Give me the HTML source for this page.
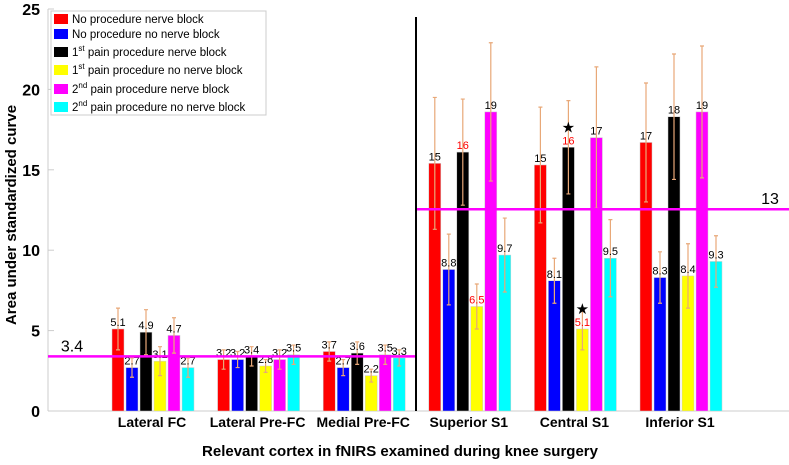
<!DOCTYPE html>
<html><head><meta charset="utf-8"><style>
body{margin:0;background:#fff;font-family:"Liberation Sans",Arial,sans-serif}
svg text{font-family:"Liberation Sans",Arial,sans-serif}
</style></head><body>
<svg id="chart" width="789" height="460" xmlns="http://www.w3.org/2000/svg"></svg>
<script>
const categories=["Lateral FC","Lateral Pre-FC","Medial Pre-FC","Superior S1","Central S1","Inferior S1"];
const seriesNames=["No procedure nerve block","No procedure no nerve block","1st pain procedure nerve block","1st pain procedure no nerve block","2nd pain procedure nerve block","2nd pain procedure no nerve block"];
const s1=[5.1,3.2,3.7,15.4,15.3,16.7];
const s2=[2.7,3.2,2.7,8.8,8.1,8.3];
const s3=[4.9,3.4,3.6,16.1,16.4,18.3];
const s4=[3.1,2.8,2.2,6.5,5.1,8.4];
const s5=[4.7,3.2,3.5,18.6,17.0,18.6];
const s6=[2.7,3.5,3.3,9.7,9.5,9.3];
const e1=[1.3,0.6,0.6,4.1,3.6,3.7];
const e2=[0.6,0.5,0.5,2.2,1.4,1.6];
const e3=[1.4,0.6,0.7,3.3,2.9,3.9];
const e4=[0.9,0.4,0.4,1.4,1.3,2.0];
const e5=[1.1,0.6,0.6,4.3,4.4,4.1];
const e6=[0.6,0.6,0.5,2.3,2.4,1.6];
const labels1=["5.1","3.2","3.7","15","15","17"];
const labels2=["2.7","3.2","2.7","8.8","8.1","8.3"];
const labels3=["4.9","3.4","3.6","16","16","18"];
const labels4=["3.1","2.8","2.2","6.5","5.1","8.4"];
const labels5=["4.7","3.2","3.5","19","17","19"];
const labels6=["2.7","3.5","3.3","9.7","9.5","9.3"];
const meanLeft=3.4, meanRight=12.55;
const yTicks=[0,5,10,15,20,25];

const colors=["#ff0000","#0000ff","#000000","#ffff00","#ff00ff","#00ffff"];
const series=[s1,s2,s3,s4,s5,s6], errs=[e1,e2,e3,e4,e5,e6], labs=[labels1,labels2,labels3,labels4,labels5,labels6];
const redLabel={"3-2":1,"3-3":1,"4-2":1,"4-3":1};
const stars={"4-2":1,"4-3":1};
const NS="http://www.w3.org/2000/svg", svg=document.getElementById('chart');
const y=v=>411-v*16.08;
const gx=i=>112+i*105.6;
const bx=(i,j)=>gx(i)+j*14;
function mk(t,a,txt){const e=document.createElementNS(NS,t);for(const k in a)e.setAttribute(k,a[k]);if(txt!==undefined)e.textContent=txt;svg.appendChild(e);return e;}
let ax=mk('line',{x1:48,y1:y(0),x2:789,y2:y(0),stroke:'#ccc','stroke-width':1});

let ay=mk('line',{x1:48,y1:y(25),x2:48,y2:y(0),stroke:'#ccc','stroke-width':1});

yTicks.forEach(t=>{
 let l=mk('line',{x1:48,y1:y(t),x2:54,y2:y(t),stroke:'#ccc'});
 
 let tx=mk('text',{x:40,y:y(t)+6,'text-anchor':'end','font-size':16,'font-weight':'bold'},t);
 
});
categories.forEach((c,i)=>{
 let t=mk('text',{x:gx(i)+40,y:427,'text-anchor':'middle','font-size':14,'font-weight':'bold'},c);
 
 series.forEach((s,j)=>{
  const x=bx(i,j),v=s[i];
  let r=mk('rect',{x:x,y:y(v),width:12,height:y(0)-y(v),fill:colors[j],stroke:'#ccc','stroke-width':0.5});
  
  const e=errs[j][i],cx=x+6;
  let eb=mk('path',{d:`M${cx},${y(v-e)}V${y(v+e)}M${cx-2},${y(v-e)}H${cx+2}M${cx-2},${y(v+e)}H${cx+2}`,stroke:'#e8a878','stroke-width':1.2,fill:'none'});
  
  const key=i+'-'+j;
  let lt=mk('text',{x:cx,y:y(v)-3,'text-anchor':'middle','font-size':11,fill:redLabel[key]?'#ff0000':'#000'},labs[j][i]);
  
  if(stars[key]){let st=mk('text',{x:cx,y:y(v)-15,'text-anchor':'middle','font-size':15},'★');
   }
 });
});
let ml=mk('line',{x1:48,y1:y(meanLeft),x2:416,y2:y(meanLeft),stroke:'#ff00ff','stroke-width':2.5});

let mlt=mk('text',{x:72,y:y(meanLeft)-5,'text-anchor':'middle','font-size':16},'3.4');

let mr=mk('line',{x1:416,y1:y(meanRight),x2:789,y2:y(meanRight),stroke:'#ff00ff','stroke-width':2.5});

let mrt=mk('text',{x:770,y:y(meanRight)-5,'text-anchor':'middle','font-size':16},'13');

let dv=mk('line',{x1:416,y1:y(24.5),x2:416,y2:y(0),stroke:'#000','stroke-width':2});

let xt=mk('text',{x:400,y:456,'text-anchor':'middle','font-size':15,'font-weight':'bold'},'Relevant  cortex in fNIRS examined during knee surgery');

let yt=mk('text',{x:0,y:0,'text-anchor':'middle','font-size':15,'font-weight':'bold',transform:'translate(16,215) rotate(-90)'},'Area under standardized curve');

let lg=mk('rect',{x:51,y:11,width:215,height:104,fill:'#fff',stroke:'#ccc'});

const rowsY=[19,34,52,70,89,107];
const sup=["","","st","st","nd","nd"], pre=["","","1","1","2","2"];
seriesNames.forEach((n,j)=>{
 let sw=mk('rect',{x:54,y:rowsY[j]-5,width:14,height:10,fill:colors[j]});
 
 let t=mk('text',{x:72,y:rowsY[j]+4,'font-size':11.5});
 
 if(pre[j]){t.appendChild(document.createTextNode(pre[j]));
  const ts=document.createElementNS(NS,'tspan');ts.setAttribute('dy','-5');ts.setAttribute('font-size','8');ts.textContent=sup[j];t.appendChild(ts);
  const ts2=document.createElementNS(NS,'tspan');ts2.setAttribute('dy','5');ts2.textContent=' '+n.replace(/^\d+(st|nd) /,'');t.appendChild(ts2);}
 else t.textContent=n;
});
</script>
</body></html>
